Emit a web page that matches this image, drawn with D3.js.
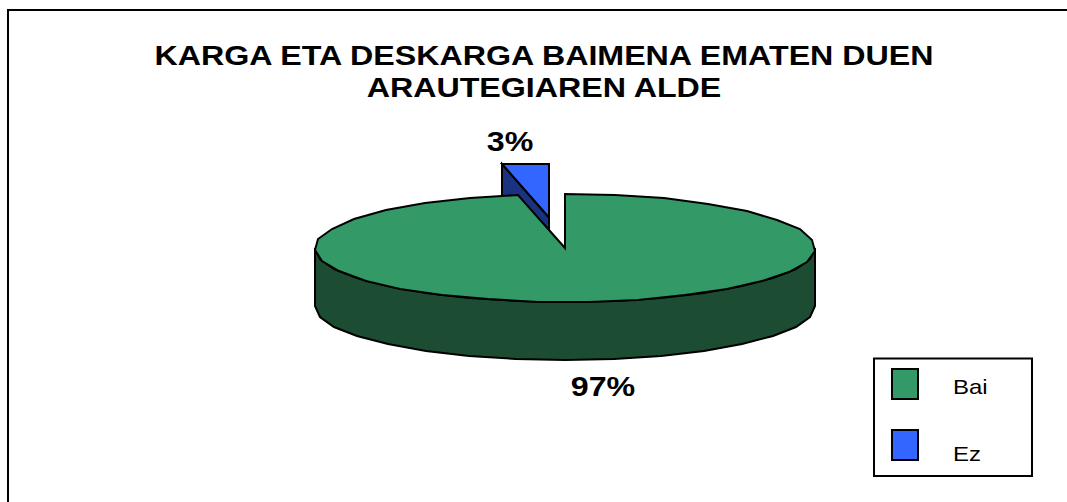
<!DOCTYPE html>
<html><head><meta charset="utf-8">
<script src="https://cdn.jsdelivr.net/npm/d3@7"></script>
<style>html,body{margin:0;padding:0;background:#fff}svg{display:block}text{font-family:"Liberation Sans",Arial,sans-serif;fill:#000}</style>
</head><body><svg id="c" width="1067" height="502"></svg>
<script>
const categories = ["Bai", "Ez"];
const values = [97, 3];
const labels = ["97%", "3%"];
const titleLines = ["KARGA ETA DESKARGA BAIMENA EMATEN DUEN", "ARAUTEGIAREN ALDE"];
const topColors = ["#339966", "#3366ff"];
const sideColors = ["#1c4d33", "#1a3380"];

const svg = d3.select("#c");
const cx = 565, cy = 248, rx = 250, ry = 54, depth = 58;
const explode = [[0, 0], [-16, -30.5]];

// text stretched horizontally, as in the reference
const wideText = (x, y, size, anchor, bold, s, sx) => svg.append("text")
  .attr("transform", `translate(${x},${y}) scale(${sx},1)`)
  .attr("text-anchor", anchor).attr("font-size", size)
  .attr("font-weight", bold ? "bold" : "normal").text(s);

svg.append("path").attr("d", "M8,502V10H1067").attr("fill", "none").attr("stroke", "#000").attr("stroke-width", 2);

titleLines.forEach((s, i) => wideText(544, 65 + i * 32, 28, "middle", true, s, 1.15));

const arcs = d3.pie().sort(null).value(d => d)(values);
const px = (a, o) => Math.round(cx + o[0] + rx * Math.sin(a));
const py = (a, o) => Math.round(cy + o[1] - ry * Math.cos(a));
const line = d3.line();
const samples = (a0, a1) => {
  const n = Math.max(1, Math.round((a1 - a0) / 0.2));
  return d3.range(n + 1).map(k => a0 + (a1 - a0) * k / n);
};
const stroke = g => g.attr("stroke", "#000").attr("stroke-width", 2).attr("stroke-linejoin", "miter");

// exploded slice first, main slice above it
[1, 0].forEach(i => {
  const a = arcs[i], o = explode[i];
  const g = svg.append("g").call(stroke);
  const ax = cx + o[0], ay = cy + o[1];
  if (i === 1) {
    g.append("path").attr("fill", sideColors[i]).attr("d", line([
      [px(a.startAngle, o), py(a.startAngle, o)], [ax, ay], [ax, ay + depth], [px(a.startAngle, o), py(a.startAngle, o) + depth]
    ]) + "Z");
  } else {
    const front = samples(Math.PI / 2, 3 * Math.PI / 2);
    const upper = front.map(t => [px(t, o), py(t, o)]);
    const lower = front.slice().reverse().map(t => [px(t, o), py(t, o) + depth]);
    g.append("path").attr("fill", sideColors[i]).attr("d", line(upper.concat(lower)) + "Z");
  }
  const rim = samples(a.startAngle, a.endAngle).map(t => [px(t, o), py(t, o)]);
  g.append("path").attr("fill", topColors[i]).attr("d", line([[ax, ay]].concat(rim)) + "Z");
});

wideText(603, 396, 28, "middle", true, labels[0], 1.15);
wideText(510, 151, 28, "middle", true, labels[1], 1.15);

svg.append("rect").attr("x", 874).attr("y", 358.5).attr("width", 158).attr("height", 117.5).attr("fill", "#fff").attr("stroke", "#000").attr("stroke-width", 2);
const ly = d3.scalePoint().domain(categories).range([369, 430]);
const textY = d3.scalePoint().domain(categories).range([394, 461]);
categories.forEach((c, i) => {
  svg.append("rect").attr("x", 892).attr("y", ly(c)).attr("width", 26).attr("height", 30).attr("fill", topColors[i]).attr("stroke", "#000").attr("stroke-width", 2);
  wideText(953, textY(c), 20, "start", false, c, 1.2);
});
</script></body></html>
